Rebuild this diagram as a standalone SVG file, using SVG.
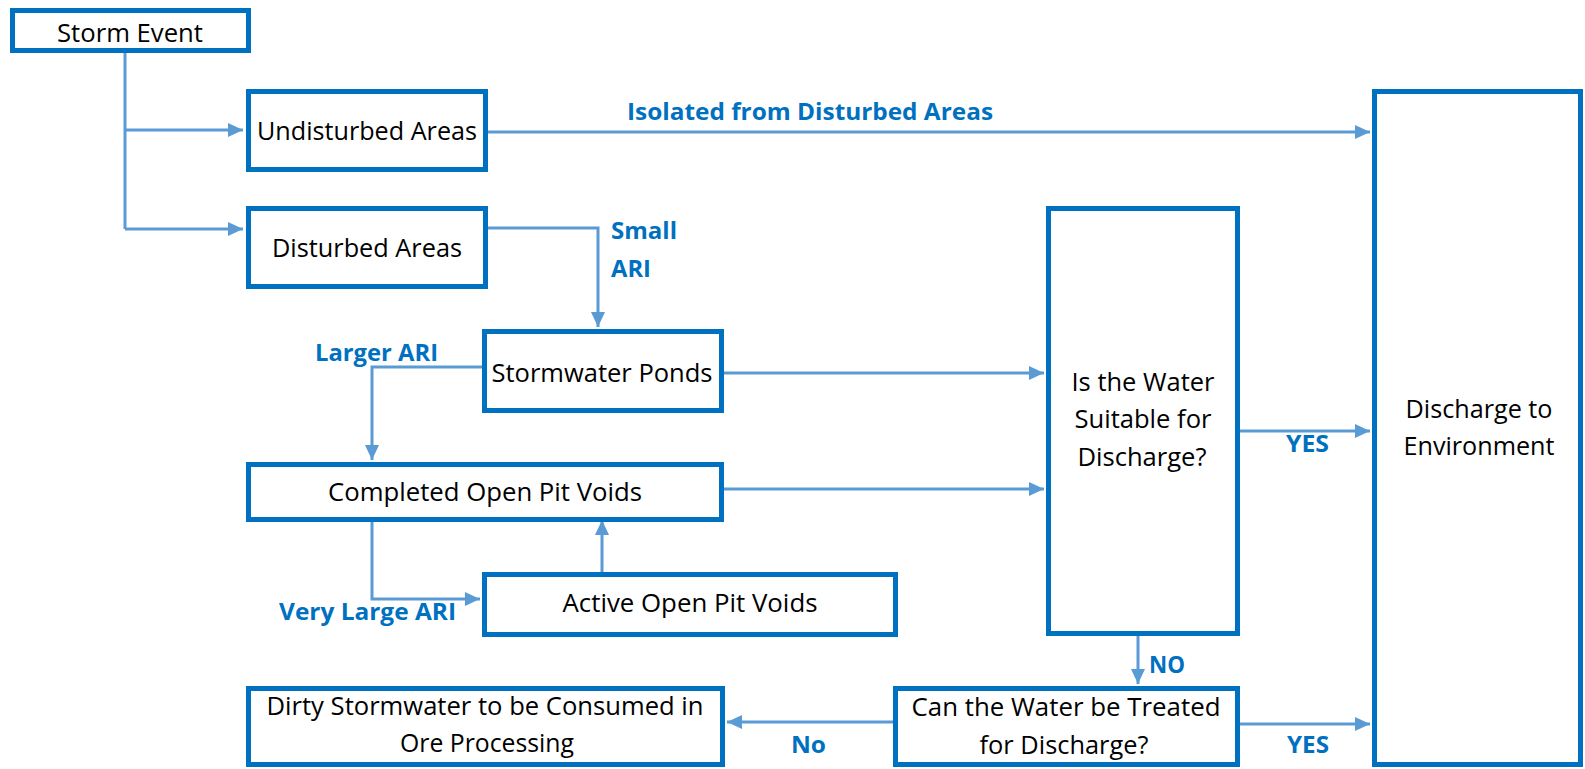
<svg xmlns="http://www.w3.org/2000/svg" width="1585" height="769" viewBox="0 0 1585 769">
<style>
.box{fill:#fff;stroke:#0070C0;stroke-width:5}
.t{font-family:"Open Sans","Liberation Sans",sans-serif;font-size:26px;fill:#000;text-anchor:middle}
.lbl{font-family:"Open Sans","Liberation Sans",sans-serif;font-size:24px;font-weight:bold;fill:#0070C0}
.c{fill:none;stroke:#5B9BD5;stroke-width:3;marker-end:url(#ah)}
.cn{fill:none;stroke:#5B9BD5;stroke-width:3}
</style>
<defs>
<marker id="ah" markerUnits="userSpaceOnUse" markerWidth="16" markerHeight="14" refX="15" refY="7" orient="auto">
<path d="M0,0 L15,7 L0,14 Z" fill="#5B9BD5"/>
</marker>
</defs>
<rect width="1585" height="769" fill="#fff"/>
<g id="connectors">
<path class="cn" d="M125,53 V229"/>
<path class="c" d="M125,130 H243"/>
<path class="c" d="M125,229 H243"/>
<path class="c" d="M488,132 H1370"/>
<path class="c" d="M488,228 H598 V327"/>
<path class="c" d="M724,373 H1044"/>
<path class="c" d="M482,367 H372 V460"/>
<path class="c" d="M724,489 H1044"/>
<path class="c" d="M372,522 V599 H480"/>
<path class="c" d="M602,572 V520"/>
<path class="c" d="M1240,431 H1370"/>
<path class="c" d="M1138,636 V684"/>
<path class="c" d="M1240,724 H1370"/>
<path class="c" d="M893,722 H727"/>
<text class="lbl" x="810" y="120" text-anchor="middle" textLength="366" lengthAdjust="spacingAndGlyphs">Isolated from Disturbed Areas</text>
<text class="lbl" x="611" y="239" textLength="66" lengthAdjust="spacingAndGlyphs">Small</text>
<text class="lbl" x="611" y="277" textLength="40" lengthAdjust="spacingAndGlyphs">ARI</text>
<text class="lbl" x="315" y="361" textLength="123" lengthAdjust="spacingAndGlyphs">Larger ARI</text>
<text class="lbl" x="279" y="620" textLength="177" lengthAdjust="spacingAndGlyphs">Very Large ARI</text>
<text class="lbl" x="1286" y="452" textLength="43" lengthAdjust="spacingAndGlyphs">YES</text>
<text class="lbl" x="1149" y="673" textLength="36" lengthAdjust="spacingAndGlyphs">NO</text>
<text class="lbl" x="1287" y="753" textLength="42" lengthAdjust="spacingAndGlyphs">YES</text>
<text class="lbl" x="791" y="753" textLength="35" lengthAdjust="spacingAndGlyphs">No</text>
</g>
<g id="storm-event">
<rect class="box" x="12.5" y="10.5" width="236" height="40"/>
<text class="t" x="130" y="42" textLength="146" lengthAdjust="spacingAndGlyphs">Storm Event</text>
</g>
<g id="undisturbed-areas">
<rect class="box" x="248.5" y="91.5" width="237" height="78"/>
<text class="t" x="367" y="140" textLength="220" lengthAdjust="spacingAndGlyphs">Undisturbed Areas</text>
</g>
<g id="disturbed-areas">
<rect class="box" x="248.5" y="208.5" width="237" height="78"/>
<text class="t" x="367" y="257" textLength="190" lengthAdjust="spacingAndGlyphs">Disturbed Areas</text>
</g>
<g id="stormwater-ponds">
<rect class="box" x="484.5" y="331.5" width="237" height="79"/>
<text class="t" x="602" y="382" textLength="221" lengthAdjust="spacingAndGlyphs">Stormwater Ponds</text>
</g>
<g id="completed-open-pit-voids">
<rect class="box" x="248.5" y="464.5" width="473" height="55"/>
<text class="t" x="485" y="501" textLength="314" lengthAdjust="spacingAndGlyphs">Completed Open Pit Voids</text>
</g>
<g id="active-open-pit-voids">
<rect class="box" x="484.5" y="574.5" width="411" height="60"/>
<text class="t" x="690" y="612" textLength="255" lengthAdjust="spacingAndGlyphs">Active Open Pit Voids</text>
</g>
<g id="water-suitable">
<rect class="box" x="1048.5" y="208.5" width="189" height="425"/>
<text class="t" x="1143" y="391" textLength="143" lengthAdjust="spacingAndGlyphs">Is the Water</text>
<text class="t" x="1143" y="428" textLength="137" lengthAdjust="spacingAndGlyphs">Suitable for</text>
<text class="t" x="1142" y="466" textLength="129" lengthAdjust="spacingAndGlyphs">Discharge?</text>
</g>
<g id="discharge-to-environment">
<rect class="box" x="1374.5" y="91.5" width="206" height="673"/>
<text class="t" x="1479" y="418" textLength="147" lengthAdjust="spacingAndGlyphs">Discharge to</text>
<text class="t" x="1479" y="455" textLength="151" lengthAdjust="spacingAndGlyphs">Environment</text>
</g>
<g id="can-be-treated">
<rect class="box" x="895.5" y="688.5" width="342" height="76"/>
<text class="t" x="1066" y="716" textLength="309" lengthAdjust="spacingAndGlyphs">Can the Water be Treated</text>
<text class="t" x="1064" y="754" textLength="169" lengthAdjust="spacingAndGlyphs">for Discharge?</text>
</g>
<g id="dirty-stormwater">
<rect class="box" x="248.5" y="688.5" width="474" height="76"/>
<text class="t" x="485" y="715" textLength="437" lengthAdjust="spacingAndGlyphs">Dirty Stormwater to be Consumed in</text>
<text class="t" x="487" y="752" textLength="174" lengthAdjust="spacingAndGlyphs">Ore Processing</text>
</g>
</svg>
